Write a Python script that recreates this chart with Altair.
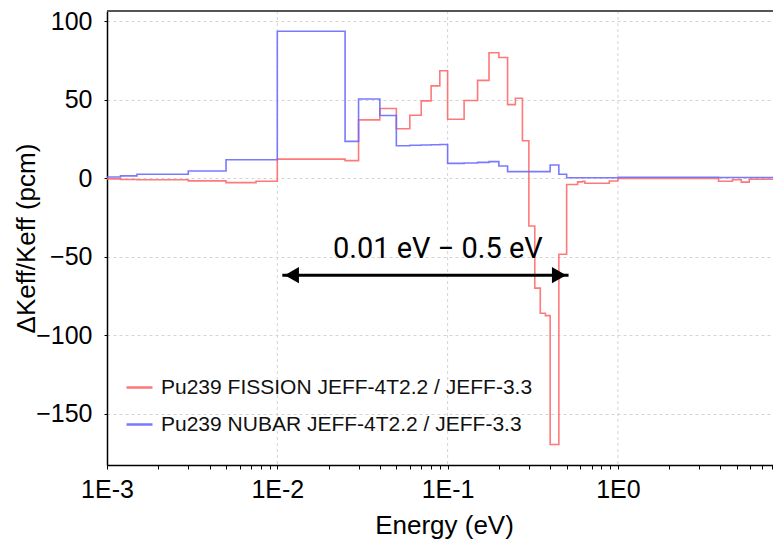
import altair as alt
import pandas as pd

# ---- data ----
edges = [0.001, 0.0012, 0.0015, 0.003, 0.005, 0.0075, 0.01, 0.025, 0.03, 0.04,
         0.05, 0.06, 0.07, 0.08, 0.09, 0.1, 0.125, 0.15, 0.175, 0.2,
         0.225, 0.25, 0.275, 0.3, 0.325, 0.35, 0.375, 0.4, 0.45, 0.5,
         0.58, 0.62, 0.64, 0.89, 1.0, 3.9, 4.7, 5.3, 5.9, 8.7, 10.0]

fission = [-0.4, -0.8, -1.0, -1.7, -2.8, -1.9, 12.2, 11.2, 37.2, 44.4,
           31.5, 40.1, 49.3, 58.8, 68.5, 37.6, 49.5, 62.3, 79.9, 76.9,
           46.9, 50.9, 23.9, -30.4, -70.0, -86.0, -87.5, -169.5, -48.4, -4.0,
           -2.3, -1.9, -3.2, -1.8, -0.2, -1.9, -1.0, -2.5, -0.6, -3.0]

nubar = [0.8, 1.5, 2.5, 4.6, 11.8, 11.8, 93.6, 23.5, 50.5, 40.0,
         20.7, 21.0, 21.2, 21.3, 21.5, 9.5, 9.7, 10.1, 10.6, 7.8,
         4.2, 4.2, 4.2, 4.2, 4.2, 4.2, 4.2, 8.4, 2.5, 0.3,
         0.3, 0.3, 0.3, 0.3, 0.6, 0.5, 0.5, 0.5, 0.5, 0.5]

series_names = ["Pu239 FISSION JEFF-4T2.2 / JEFF-3.3",
                "Pu239 NUBAR JEFF-4T2.2 / JEFF-3.3"]
series_colors = ["#ff6a6a", "#6a6aff"]

major_ticks = [0.001, 0.01, 0.1, 1.0]
minor_mult = [2, 3, 4, 5, 6, 7, 8, 9]
y_ticks = [-150, -100, -50, 0, 50, 100]

annot_text = "0.01 eV \u2212 0.5 eV"
arrow_left = 0.0107
arrow_right = 0.513
arrow_y = -61.7
text_x = 0.0877
text_y = -50.9

x_domain = [0.001, 8.14]
y_domain = [-182.6, 106.5]

# ---- tables ----
rows = []
for name, vals in zip(series_names, [fission, nubar]):
    for e, v in zip(edges[:-1], vals):
        rows.append({"energy": e, "value": v, "series": name})
    rows.append({"energy": edges[-1], "value": vals[-1], "series": name})
df = pd.DataFrame(rows)

tick_vals = list(major_ticks)
for d in major_ticks:
    for m in minor_mult:
        v = round(d * m, 6)
        if v <= x_domain[1]:
            tick_vals.append(v)
tick_vals = sorted(tick_vals)

W, H = 666, 454
FONT = "Liberation Sans"

xscale = alt.Scale(type="log", domain=x_domain, nice=False)
yscale = alt.Scale(domain=y_domain, nice=False, zero=False)

label_expr = ("abs(log(datum.value)/LN10 - round(log(datum.value)/LN10)) < 0.001 ? "
              "'1E' + round(log(datum.value)/LN10) : ''")

x_axis = alt.Axis(values=tick_vals, labelExpr=label_expr, grid=False,
                  title="Energy (eV)", titleFont=FONT, titleFontSize=26,
                  titleFontWeight="normal", titleColor="#000",
                  titleBaseline="alphabetic", titleY=68, titleX=337,
                  labelFont=FONT, labelFontSize=25, labelColor="#000",
                  labelBaseline="alphabetic", labelPadding=28, labelOverlap=False,
                  labelFlush=False,
                  tickSize=4, tickColor="#000", domainColor="#000", domainWidth=1.5)

y_axis = alt.Axis(values=y_ticks, grid=True, gridColor="#d4d4d4", gridDash=[3, 3],
                  title="\u0394Keff/Keff (pcm)", titleFont=FONT, titleFontSize=26,
                  titleFontWeight="normal", titleColor="#000",
                  titleAngle=-90, titleAlign="center", titleBaseline="alphabetic",
                  titleX=-73, titleY=H / 2,
                  labelFont=FONT, labelFontSize=25, labelColor="#000",
                  labelPadding=12, tickSize=3, tickColor="#000",
                  domainColor="#000", domainWidth=1.5)

lines = alt.Chart(df).mark_line(interpolate="step-after", strokeWidth=1.6,
                                opacity=0.9, clip=True).encode(
    x=alt.X("energy:Q", scale=xscale, axis=x_axis),
    y=alt.Y("value:Q", scale=yscale, axis=y_axis),
    color=alt.Color("series:N",
                    scale=alt.Scale(domain=series_names, range=series_colors),
                    legend=alt.Legend(title=None, orient="none", legendX=18, legendY=362,
                                      symbolType="stroke", symbolSize=676,
                                      symbolStrokeWidth=2.5, labelFont=FONT,
                                      labelFontSize=21, labelColor="#111",
                                      labelLimit=0, labelOffset=7, rowPadding=12,
                                      padding=0)),
)

xgrid = alt.Chart(pd.DataFrame({"energy": major_ticks[1:]})).mark_rule(
    color="#d4d4d4", strokeDash=[3, 3], strokeWidth=1).encode(
    x=alt.X("energy:Q", scale=xscale))

top_border = alt.Chart(pd.DataFrame({"a": [0]})).mark_rule(
    color="#555", strokeWidth=2).encode(
    x=alt.value(0), x2=alt.value(W + 5), y=alt.value(0))

arrow_df = pd.DataFrame({"x1": [arrow_left], "x2": [arrow_right], "y": [arrow_y]})
arrow_line = alt.Chart(arrow_df).mark_rule(color="#000", strokeWidth=3).encode(
    x=alt.X("x1:Q", scale=xscale), x2="x2:Q", y=alt.Y("y:Q", scale=yscale))

head_l = alt.Chart(pd.DataFrame({"x": [arrow_left], "y": [arrow_y]})).mark_point(
    shape="triangle-left", size=270, filled=True, color="#000", opacity=1,
    xOffset=9.5).encode(x=alt.X("x:Q", scale=xscale), y=alt.Y("y:Q", scale=yscale))
head_r = alt.Chart(pd.DataFrame({"x": [arrow_right], "y": [arrow_y]})).mark_point(
    shape="triangle-right", size=270, filled=True, color="#000", opacity=1,
    xOffset=-9.5).encode(x=alt.X("x:Q", scale=xscale), y=alt.Y("y:Q", scale=yscale))

label = alt.Chart(pd.DataFrame({"x": [text_x], "y": [text_y], "t": [annot_text]})).mark_text(
    font="Roboto", fontSize=29, color="#000", align="center", baseline="alphabetic").encode(
    x=alt.X("x:Q", scale=xscale), y=alt.Y("y:Q", scale=yscale), text="t:N")

chart = alt.layer(xgrid, lines, top_border, arrow_line, head_l, head_r, label).properties(
    width=W, height=H,
    autosize=alt.AutoSizeParams(type="none"),
    padding={"left": 99, "top": 3, "right": 0, "bottom": 74},
).configure_view(stroke=None).configure(background="white")

chart.save("out.html", embed_options={"renderer": "svg", "actions": False})
